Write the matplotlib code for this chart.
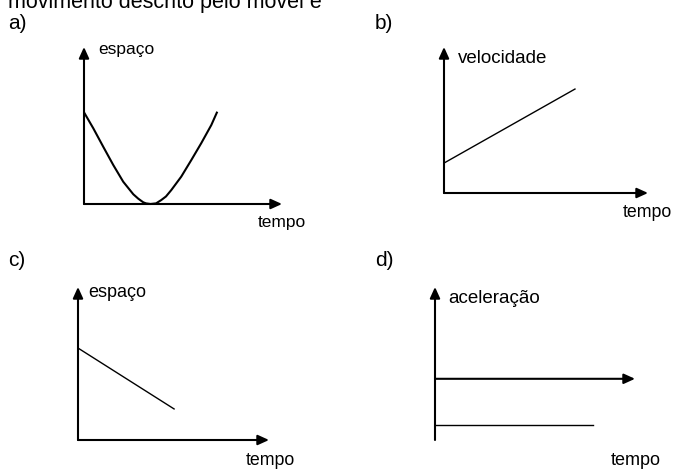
import matplotlib
matplotlib.use('Agg')
import matplotlib.pyplot as plt

W, H = 676, 469
plt.rcParams['font.family'] = ['Liberation Sans', 'DejaVu Sans']

# ---------------- data ----------------
header = "movimento descrito pelo móvel é"
panel_labels = ["a)", "b)", "c)", "d)"]
y_labels = ["espaço", "velocidade", "espaço", "aceleração"]
x_label = "tempo"

# a) espaço x tempo (points read along the drawn curve)
a_t = [0.0, 0.47, 0.97, 1.48, 1.98, 2.49, 2.74, 2.99, 3.13, 3.36, 3.64, 3.90, 4.14, 4.41,
       4.91, 5.42, 5.92, 6.43, 6.73]
a_s = [5.84, 4.82, 3.65, 2.48, 1.42, 0.62, 0.34, 0.11, 0.04, 0.0, 0.04, 0.25, 0.48, 0.89,
       1.74, 2.80, 3.87, 5.03, 5.88]
# b) velocidade x tempo
b_t = [0.0, 6.42]
b_v = [2.05, 7.12]
# c) espaço x tempo
c_t = [0.0, 5.03]
c_s = [6.01, 2.03]
# d) aceleração x tempo
d_t = [0.0, 7.9]
d_a = [-3.0, -3.0]

# ---------------- figure ----------------
fig = plt.figure(figsize=(W / 100, H / 100), dpi=100)
fig.patch.set_facecolor('white')


def px_axes(left, top, w, h):
    return fig.add_axes([left / W, 1 - (top + h) / H, w / W, h / H])


def ftext(x, y, s, size, **kw):
    fig.text(x / W, 1 - y / H, s, fontsize=size, ha='left', va='baseline', color='black', **kw)


AX_LW = 1.5
ARROW = dict(arrowstyle='-|>,head_length=0.55,head_width=0.25', lw=AX_LW, color='black',
             shrinkA=0, shrinkB=0, mutation_scale=12)


def axis_arrows(ax):
    ax.annotate('', xy=(1, 0), xytext=(0, 0), xycoords='axes fraction', textcoords='axes fraction',
                arrowprops=ARROW, annotation_clip=False)
    ax.annotate('', xy=(0, 1), xytext=(0, 0), xycoords='axes fraction', textcoords='axes fraction',
                arrowprops=ARROW, annotation_clip=False)


# a)
axa = px_axes(84, 47, 198, 157)
axa.set_xlim(0, 10); axa.set_ylim(0, 10); axa.set_axis_off()
axa.plot(a_t, a_s, color='black', lw=1.5, solid_joinstyle='round', solid_capstyle='butt',
         antialiased=True, clip_on=False)
axis_arrows(axa)

# b)
axb = px_axes(444, 47, 204, 146)
axb.set_xlim(0, 10); axb.set_ylim(0, 10); axb.set_axis_off()
axb.plot(b_t, b_v, color='black', lw=1.0, clip_on=False)
axis_arrows(axb)

# c)
axc = px_axes(78, 287, 191, 153)
axc.set_xlim(0, 10); axc.set_ylim(0, 10); axc.set_axis_off()
axc.plot(c_t, c_s, color='black', lw=1.0, clip_on=False)
axis_arrows(axc)

# d)
axd = px_axes(435, 287, 200, 153)
axd.set_xlim(0, 10); axd.set_ylim(-4, 6); axd.set_axis_off()
axd.plot(d_t, d_a, color='black', lw=1.0, clip_on=False)
axd.annotate('', xy=(10, 0), xytext=(0, 0), xycoords='data', textcoords='data',
             arrowprops=ARROW, annotation_clip=False)
axd.annotate('', xy=(0, 1), xytext=(0, 0), xycoords='axes fraction', textcoords='axes fraction',
             arrowprops=ARROW, annotation_clip=False)

# ---------------- texts ----------------
ftext(8, 8, header, 15.5)
ftext(8, 29, panel_labels[0], 15)
ftext(375, 29, panel_labels[1], 15)
ftext(8, 266, panel_labels[2], 15)
ftext(375, 266, panel_labels[3], 15)

ftext(98, 54, y_labels[0], 12.5)
ftext(458, 63, y_labels[1], 13.5)
ftext(88, 297, y_labels[2], 13)
ftext(448, 303, y_labels[3], 13.5)

ftext(258, 227, x_label, 12.5)
ftext(623, 217, x_label, 12.8)
ftext(246, 465, x_label, 12.8)
ftext(611, 465, x_label, 13)

fig.savefig('out.png', dpi=100, facecolor='white')
